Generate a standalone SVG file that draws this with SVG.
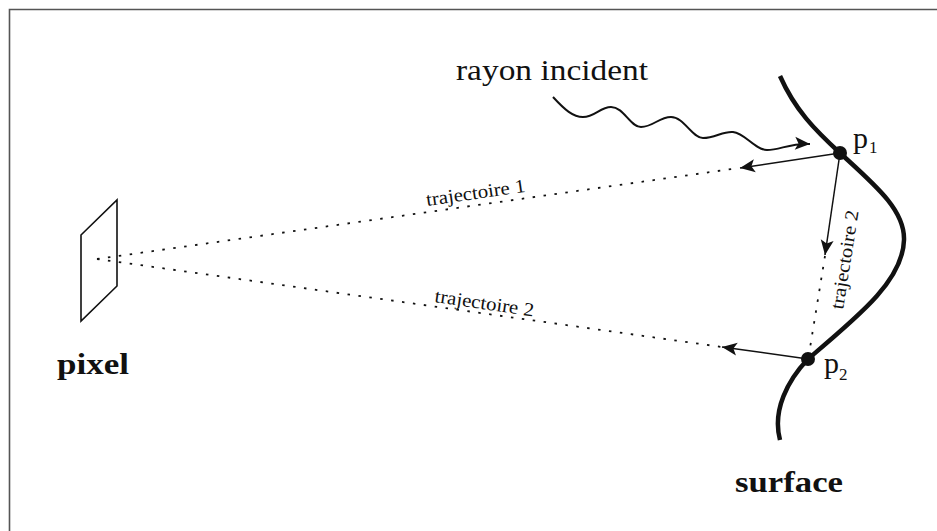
<svg xmlns="http://www.w3.org/2000/svg" width="937" height="531" viewBox="0 0 937 531">
<style>
.serif{font-family:"Liberation Serif","DejaVu Serif",serif;fill:#111}
.bold{font-weight:bold}
.solid{fill:none;stroke:#111;stroke-width:1.5}
.dots{fill:none;stroke:#111;stroke-width:1.8;stroke-dasharray:2.5 8.5}
</style>
<defs>
<marker id="arr" markerUnits="userSpaceOnUse" orient="auto" overflow="visible" refX="0" refY="0" markerWidth="20" markerHeight="20">
<path d="M0,0 L-15,-6.5 L-11.5,0 L-15,6.5 z" fill="#111" stroke="none"/>
</marker>
</defs>
<rect width="937" height="531" fill="#fff"/>
<path d="M9.5,531 V9.5 H937" fill="none" stroke="#555" stroke-width="1.6"/>

<g id="connectors">
<path class="dots" d="M97,259 L739,168"/>
<path class="dots" d="M97,259 L722,347"/>
<path class="dots" d="M825,256 L809,354"/>
<path class="solid" d="M840,153 L740,168" marker-end="url(#arr)"/>
<path class="solid" d="M840,153 L825,255" marker-end="url(#arr)"/>
<path class="solid" d="M808,359 L722,347" marker-end="url(#arr)"/>
<path id="incident-ray" fill="none" stroke="#111" stroke-width="2" d="M553,97 C565,110 573,117 583,117 C595,117 600,107 611,107 C624,107 630,127 641,127 C653,127 659,117 671,117 C684,117 692,138 703,138 C715,138 723,131 733,132 C745,133 755,150 767,150 C780,150 790,143 810,144" marker-end="url(#arr)"/>
<text class="serif" font-size="19" transform="translate(427,206) rotate(-8.2)" textLength="100" lengthAdjust="spacingAndGlyphs">trajectoire 1</text>
<text class="serif" font-size="19" transform="translate(434,302) rotate(8.3)" textLength="100" lengthAdjust="spacingAndGlyphs">trajectoire 2</text>
<text class="serif" font-size="19" transform="translate(843,310) rotate(-81)" textLength="100" lengthAdjust="spacingAndGlyphs">trajectoire 2</text>
</g>

<g id="pixel">
<polygon points="81,235 117,200 117,286 81,321" fill="none" stroke="#111" stroke-width="1.6" stroke-linejoin="miter"/>
<text class="serif bold" x="57" y="374" font-size="30" textLength="72" lengthAdjust="spacingAndGlyphs">pixel</text>
</g>

<g id="surface">
<path fill="none" stroke="#111" stroke-width="4.5" stroke-linecap="butt" d="M780,76 C795,110 815,130 840,153 C875,185 905,210 904,240 C903,280 860,315 808,359 C788,380 772,410 780,440"/>
<text class="serif bold" x="735" y="492" font-size="30" textLength="108" lengthAdjust="spacingAndGlyphs">surface</text>
</g>

<g id="p1">
<circle cx="840" cy="153" r="7" fill="#111"/>
<text class="serif" x="853" y="148" font-size="30">p</text>
<text class="serif" x="869" y="153" font-size="17">1</text>
</g>

<g id="p2">
<circle cx="808" cy="359" r="7" fill="#111"/>
<text class="serif" x="824" y="373" font-size="30">p</text>
<text class="serif" x="839" y="380" font-size="17">2</text>
</g>

<g id="incident">
<text class="serif" x="456" y="80" font-size="30" textLength="192" lengthAdjust="spacingAndGlyphs">rayon incident</text>
</g>
</svg>
